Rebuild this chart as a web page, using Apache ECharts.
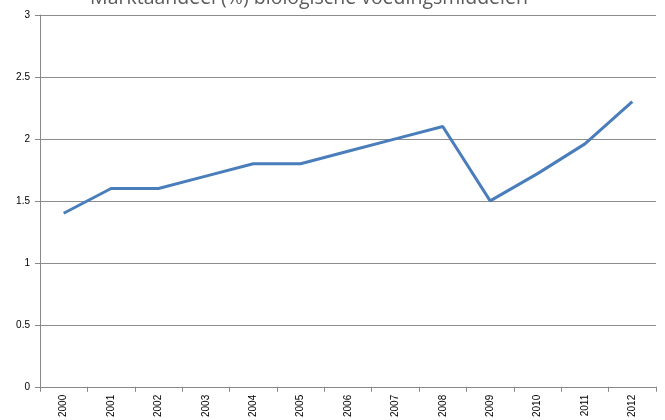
<!DOCTYPE html>
<html>
<head>
<meta charset="utf-8">
<script src="https://cdn.jsdelivr.net/npm/echarts@6/dist/echarts.min.js"></script>
<style>
  html, body { margin: 0; padding: 0; background: #fff; }
  #chart { width: 665px; height: 420px; }
</style>
</head>
<body>
<div id="chart"></div>
<script>
  // jaren en marktaandeel in procent
  var years = ['2000', '2001', '2002', '2003', '2004', '2005', '2006', '2007', '2008', '2009', '2010', '2011', '2012'];
  var share = [1.4, 1.6, 1.6, 1.7, 1.8, 1.8, 1.9, 2.0, 2.1, 1.5, 1.72, 1.96, 2.3];
  var titleText = 'Marktaandeel (%) biologische voedingsmiddelen';

  var chart = echarts.init(document.getElementById('chart'));
  var option = {
    animation: false,
    title: {
      text: titleText,
      left: 304,
      textAlign: 'center',
      top: -17,
      textStyle: {
        fontFamily: 'Open Sans',
        fontSize: 19.5,
        fontWeight: 'normal',
        color: '#5a5a5a'
      }
    },
    grid: {
      left: 40,
      right: 9,
      top: 15,
      bottom: 30
    },
    xAxis: {
      type: 'category',
      data: years,
      boundaryGap: true,
      axisLine: { lineStyle: { color: '#888', width: 1 } },
      axisTick: { show: true, length: 5, lineStyle: { color: '#888' } },
      axisLabel: {
        rotate: 90,
        fontFamily: 'Liberation Sans',
        fontSize: 10,
        color: '#000',
        margin: 8
      }
    },
    yAxis: {
      type: 'value',
      min: 0,
      max: 3,
      interval: 0.5,
      axisLine: { show: true, lineStyle: { color: '#888', width: 1 } },
      axisTick: { show: true, length: 5, lineStyle: { color: '#888' } },
      splitLine: { show: true, lineStyle: { color: '#8c8c8c', width: 1 } },
      axisLabel: {
        fontFamily: 'Liberation Sans',
        fontSize: 10,
        color: '#000',
        margin: 10
      }
    },
    series: [{
      type: 'line',
      data: share,
      symbol: 'none',
      lineStyle: { color: '#4a7ebb', width: 3 },
      itemStyle: { color: '#4a7ebb' }
    }]
  };
  chart.setOption(option);
</script>
</body>
</html>
